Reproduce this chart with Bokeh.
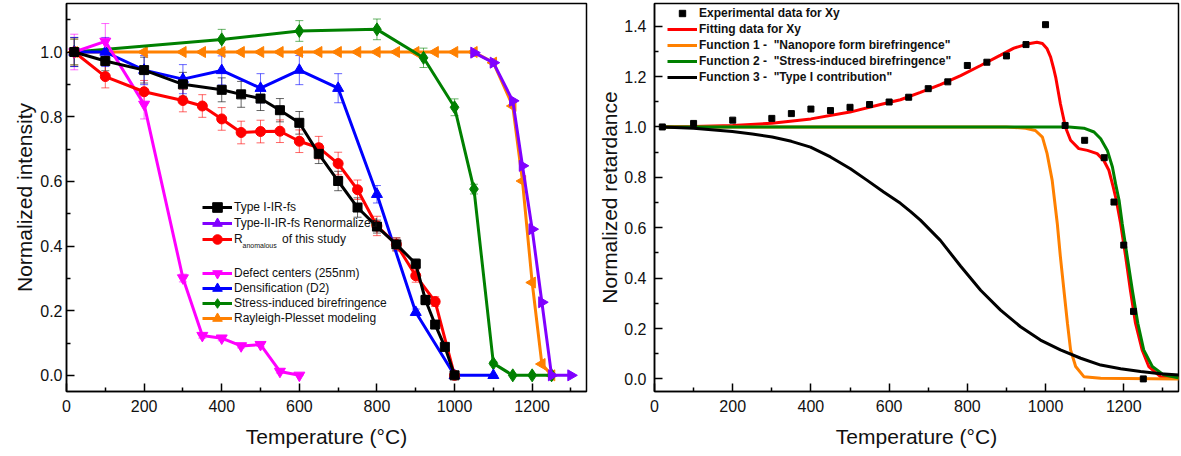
import math
from bokeh.plotting import figure
from bokeh.layouts import row
from bokeh.models import (ColumnDataSource, Whisker, TeeHead, Legend, LegendItem, Label,
                          Range1d, FixedTicker, PrintfTickFormatter)
from bokeh.embed import file_html
from bokeh.resources import INLINE

FONT = "Liberation Sans"

# ---------------- Left panel data ----------------
type1_x = [20, 100, 200, 300, 400, 450, 500, 550, 600, 650, 700, 750, 800, 850, 900, 925, 950, 975, 1000]
type1_y = [1.0, 0.972, 0.944, 0.900, 0.883, 0.869, 0.856, 0.820, 0.781, 0.685, 0.601, 0.519, 0.460, 0.405, 0.345, 0.233, 0.157, 0.088, 0.0]
type1_err = [0.045, 0.03, 0.04, 0.037, 0.037, 0.04, 0.037, 0.036, 0.035, 0.03, 0.03, 0.03, 0.02, 0.02, 0.015, 0.015, 0.01, 0.01, 0.0]

type2_x = [1050, 1100, 1150, 1175, 1200, 1225, 1250, 1300]
type2_y = [0.998, 0.967, 0.849, 0.648, 0.452, 0.226, 0.0, 0.0]

ranom_x = [20, 100, 200, 300, 350, 400, 450, 500, 550, 600, 650, 700, 750, 800, 850, 900, 950, 1000]
ranom_y = [1.0, 0.924, 0.877, 0.850, 0.833, 0.793, 0.751, 0.754, 0.755, 0.724, 0.704, 0.655, 0.574, 0.462, 0.405, 0.308, 0.228, 0.0]
ranom_err = [0.04, 0.035, 0.035, 0.035, 0.035, 0.035, 0.035, 0.035, 0.035, 0.035, 0.035, 0.035, 0.03, 0.03, 0.02, 0.02, 0.015, 0.0]

defect_x = [20, 100, 200, 300, 350, 400, 450, 500, 550, 600]
defect_y = [1.0, 1.033, 0.838, 0.301, 0.123, 0.115, 0.091, 0.095, 0.012, 0.0]
defect_err = [0.055, 0.055, 0.045, 0.012, 0.008, 0.008, 0.006, 0.006, 0.005, 0.0]

dens_x = [20, 100, 200, 300, 400, 500, 600, 700, 800, 900, 1000, 1100]
dens_y = [1.0, 1.0, 0.944, 0.916, 0.943, 0.888, 0.944, 0.888, 0.560, 0.195, 0.0, 0.0]
dens_err = [0.045, 0.045, 0.045, 0.045, 0.045, 0.045, 0.045, 0.045, 0.027, 0.01, 0.0, 0.0]

stress_x = [20, 400, 600, 800, 920, 1000, 1050, 1100, 1150, 1200, 1250]
stress_y = [1.0, 1.039, 1.065, 1.070, 0.982, 0.829, 0.576, 0.037, 0.0, 0.0, 0.0]
stress_err = [0.04, 0.031, 0.032, 0.032, 0.03, 0.026, 0.015, 0.005, 0.0, 0.0, 0.0]

rayl_x = [20, 100, 200, 300, 350, 400, 450, 500, 550, 600, 650, 700, 750, 800, 850, 900, 950, 1000, 1050,
          1100, 1150, 1175, 1200, 1225, 1250]
rayl_y = [1.0, 1.0, 1.0, 1.0, 1.0, 1.0, 1.0, 1.0, 1.0, 1.0, 1.0, 1.0, 1.0, 1.0, 1.0, 1.0, 1.0, 1.0, 1.0,
          0.967, 0.833, 0.601, 0.287, 0.035, 0.0]

# ---------------- Right panel data ----------------
exp_x = [20, 100, 200, 300, 350, 400, 450, 500, 550, 600, 650, 700, 750, 800, 850, 900, 950, 1000,
         1050, 1100, 1150, 1175, 1200, 1225, 1250]
exp_y = [1.0, 1.014, 1.027, 1.034, 1.053, 1.071, 1.065, 1.078, 1.089, 1.099, 1.118, 1.152, 1.179, 1.244,
         1.257, 1.282, 1.327, 1.406, 1.006, 0.947, 0.878, 0.702, 0.531, 0.268, 0.0]

fit_x = [20, 100, 200, 300, 400, 500, 578, 629, 680, 731, 783, 834, 885, 919, 953, 978, 992, 1004, 1013,
         1021, 1026, 1038, 1051, 1064, 1085, 1107, 1132, 1149, 1162, 1173, 1181, 1192, 1205, 1217, 1230,
         1247, 1264, 1294, 1345]
fit_y = [1.0, 1.002, 1.006, 1.015, 1.032, 1.059, 1.089, 1.108, 1.137, 1.168, 1.204, 1.244, 1.285, 1.313,
         1.329, 1.336, 1.331, 1.310, 1.277, 1.230, 1.197, 1.092, 0.999, 0.947, 0.914, 0.907, 0.894, 0.867,
         0.828, 0.762, 0.709, 0.617, 0.484, 0.352, 0.221, 0.115, 0.049, 0.009, 0.003]

f1_x = [20, 900, 949, 974, 992, 1004, 1017, 1023, 1030, 1038, 1047, 1056, 1064, 1077, 1098, 1141, 1345]
f1_y = [1.0, 1.0, 0.995, 0.986, 0.960, 0.894, 0.788, 0.709, 0.617, 0.484, 0.352, 0.221, 0.115, 0.049,
        0.009, 0.003, 0.0]

f2_x = [20, 1060, 1098, 1124, 1141, 1158, 1171, 1179, 1188, 1196, 1209, 1222, 1236, 1251, 1273, 1302, 1345]
f2_y = [1.0, 1.0, 0.995, 0.980, 0.953, 0.907, 0.841, 0.775, 0.709, 0.617, 0.484, 0.352, 0.221, 0.115,
        0.049, 0.016, 0.003]

f3_x = [20, 100, 199, 250, 301, 350, 399, 450, 501, 544, 586, 629, 655, 680, 731, 783, 834, 885, 936, 987,
        1038, 1090, 1141, 1192, 1243, 1294, 1345]
f3_y = [1.0, 0.995, 0.982, 0.972, 0.960, 0.943, 0.920, 0.881, 0.834, 0.788, 0.742, 0.697, 0.664, 0.630,
        0.550, 0.447, 0.352, 0.273, 0.207, 0.154, 0.115, 0.082, 0.055, 0.040, 0.029, 0.020, 0.015]

x_major = [0, 200, 400, 600, 800, 1000, 1200]
x_minor = [100, 300, 500, 700, 900, 1100, 1300]
yl_major = [0.0, 0.2, 0.4, 0.6, 0.8, 1.0]
yl_minor = [0.1, 0.3, 0.5, 0.7, 0.9, 1.1]
yr_major = [0.0, 0.2, 0.4, 0.6, 0.8, 1.0, 1.2, 1.4]
yr_minor = [0.1, 0.3, 0.5, 0.7, 0.9, 1.1, 1.3]

BLACK = "#000000"
PURPLE = "#8000ff"
RED = "#ff0000"
MAGENTA = "#ff00ff"
BLUE = "#0000ff"
GREEN = "#008000"
ORANGE = "#ff8000"

FRAME_TOP = 3
FRAME_H = 388
FRAME_BOTTOM = FRAME_TOP + FRAME_H


def make_fig(fw, ylo, yhi, ymaj, ymin, ylabel, left, right, ystand, ytitle_stand):
    p = figure(frame_width=fw, frame_height=FRAME_H, x_range=Range1d(0, 1340), y_range=Range1d(ylo, yhi),
               output_backend="svg", toolbar_location=None,
               min_border_left=left, min_border_right=right, min_border_top=FRAME_TOP,
               min_border_bottom=60)
    p.grid.visible = False
    p.background_fill_color = "white"
    p.border_fill_color = "white"
    p.outline_line_color = "black"
    p.outline_line_width = 1.5
    p.outline_line_alpha = 1.0
    p.xaxis.ticker = FixedTicker(ticks=x_major, minor_ticks=x_minor)
    p.yaxis.ticker = FixedTicker(ticks=ymaj, minor_ticks=ymin)
    p.yaxis.formatter = PrintfTickFormatter(format="%.1f")
    p.xaxis.axis_label = "Temperature (°C)"
    p.yaxis.axis_label = ylabel
    for ax in (p.xaxis[0], p.yaxis[0]):
        ax.axis_line_width = 1.5
        ax.axis_line_color = "black"
        ax.major_tick_in = 8
        ax.major_tick_out = 0
        ax.minor_tick_in = 4
        ax.minor_tick_out = 0
        ax.major_tick_line_width = 1.5
        ax.minor_tick_line_width = 1.5
        ax.major_tick_line_color = "black"
        ax.minor_tick_line_color = "black"
        ax.major_label_text_font = FONT
        ax.major_label_text_font_size = "16px"
        ax.major_label_text_color = "#111111"
        ax.axis_label_text_font = FONT
        ax.axis_label_text_font_size = "21px"
        ax.axis_label_text_font_style = "normal"
        ax.axis_label_text_color = "#111111"
    p.xaxis.major_label_standoff = 8
    p.xaxis.axis_label_standoff = 10
    p.yaxis.major_label_standoff = ystand
    p.yaxis.axis_label_standoff = ytitle_stand
    return p


# ---------------- Left figure ----------------
p1 = make_fig(520, -0.05, 1.15, yl_major, yl_minor, "Normalized intensity", 66, 8, 4, 1)


def whisk(p, xs, ys, es, color):
    src = ColumnDataSource(dict(base=xs, upper=[y + e for y, e in zip(ys, es)],
                                lower=[y - e for y, e in zip(ys, es)]))
    w = Whisker(source=src, base="base", upper="upper", lower="lower", dimension="height",
                line_color=color, line_alpha=0.6, line_width=1,
                upper_head=TeeHead(size=8, line_color=color, line_alpha=0.6, line_width=1),
                lower_head=TeeHead(size=8, line_color=color, line_alpha=0.6, line_width=1))
    w.level = "underlay"
    p.add_layout(w)


whisk(p1, type1_x, type1_y, type1_err, BLACK)
whisk(p1, ranom_x, ranom_y, ranom_err, RED)
whisk(p1, defect_x, defect_y, defect_err, MAGENTA)
whisk(p1, dens_x, dens_y, dens_err, BLUE)
whisk(p1, stress_x, stress_y, stress_err, GREEN)

LW = 3
r_or_l = p1.line(rayl_x, rayl_y, line_color=ORANGE, line_width=LW)
r_or_s = p1.scatter(rayl_x, rayl_y, marker="triangle", angle=math.pi / 2, size=11, color=ORANGE)
r_gr_l = p1.line(stress_x, stress_y, line_color=GREEN, line_width=LW)
r_gr_s = p1.scatter(stress_x, stress_y, marker="diamond", size=13, color=GREEN)
r_bl_l = p1.line(dens_x, dens_y, line_color=BLUE, line_width=LW)
r_bl_s = p1.scatter(dens_x, dens_y, marker="triangle", size=11, color=BLUE)
r_mg_l = p1.line(defect_x, defect_y, line_color=MAGENTA, line_width=LW)
r_mg_s = p1.scatter(defect_x, defect_y, marker="inverted_triangle", size=11, color=MAGENTA)
r_rd_l = p1.line(ranom_x, ranom_y, line_color=RED, line_width=LW)
r_rd_s = p1.scatter(ranom_x, ranom_y, marker="circle", size=10, color=RED)
r_bk_l = p1.line(type1_x, type1_y, line_color=BLACK, line_width=LW)
r_bk_s = p1.scatter(type1_x, type1_y, marker="square", size=9, color=BLACK)
r_pu_l = p1.line(type2_x, type2_y, line_color=PURPLE, line_width=LW)
r_pu_s = p1.scatter(type2_x, type2_y, marker="triangle", angle=-math.pi / 2, size=11, color=PURPLE)

leg_style = dict(glyph_width=30, glyph_height=24, label_height=15, spacing=0, padding=0, margin=0,
                 label_standoff=2, background_fill_alpha=0, border_line_alpha=0,
                 label_text_font=FONT, label_text_font_size="12px", label_text_color="#111111")

# row centres of the left legend, in pixels from the top of the page
left_entries = [
    ("Type I-IR-fs", [r_bk_l, r_bk_s], 207.5),
    ("Type-II-IR-fs Renormalized", [r_pu_l, r_pu_s], 223),
    ("R\u2002\u2002\u2002\u2002\u2002\u2002 of this study", [r_rd_l, r_rd_s], 238.5),
    ("Defect centers (255nm)", [r_mg_l, r_mg_s], 272.7),
    ("Densification (D2)", [r_bl_l, r_bl_s], 287.9),
    ("Stress-induced birefringence", [r_gr_l, r_gr_s], 303.1),
    ("Rayleigh-Plesset modeling", [r_or_l, r_or_s], 318.3),
]
for lab, rends, cy in left_entries:
    p1.add_layout(Legend(items=[LegendItem(label=lab, renderers=rends)],
                         location=(136, round(FRAME_BOTTOM - 12 - cy)), **leg_style))

p1.add_layout(Label(x=176, y=FRAME_BOTTOM - 244.5, x_units="screen", y_units="screen", text="anomalous",
                    text_font=FONT, text_font_size="7px", text_baseline="middle", text_color="#111111"))

# ---------------- Right figure ----------------
p2 = make_fig(524, -0.05, 1.49, yr_major, yr_minor, "Normalized retardance", 60, 2, 8, 0)

r_fit = p2.line(fit_x, fit_y, line_color=RED, line_width=LW)
r_f1 = p2.line(f1_x, f1_y, line_color=ORANGE, line_width=LW)
r_f2 = p2.line(f2_x, f2_y, line_color=GREEN, line_width=LW)
r_f3 = p2.line(f3_x, f3_y, line_color=BLACK, line_width=LW)
r_exp = p2.scatter(exp_x, exp_y, marker="square", size=6, color=BLACK)

leg3 = Legend(items=[
    LegendItem(label="Experimental data for Xy", renderers=[r_exp]),
    LegendItem(label="Fitting data for Xy", renderers=[r_fit]),
    LegendItem(label="Function 1 -\u00a0 \"Nanopore form birefringence\"", renderers=[r_f1]),
    LegendItem(label="Function 2 -\u00a0 \"Stress-induced birefringence\"", renderers=[r_f2]),
    LegendItem(label="Function 3 -\u00a0 \"Type I contribution\"", renderers=[r_f3]),
], location=(13, FRAME_BOTTOM - 85), glyph_width=30, glyph_height=16, label_height=16, spacing=0,
    padding=0, margin=0, label_standoff=2, background_fill_alpha=0, border_line_alpha=0,
    label_text_font=FONT, label_text_font_size="12px", label_text_font_style="bold",
    label_text_color="#111111")
p2.add_layout(leg3)

layout = row(p1, p2)
open("out.html", "w").write(file_html(layout, INLINE))
